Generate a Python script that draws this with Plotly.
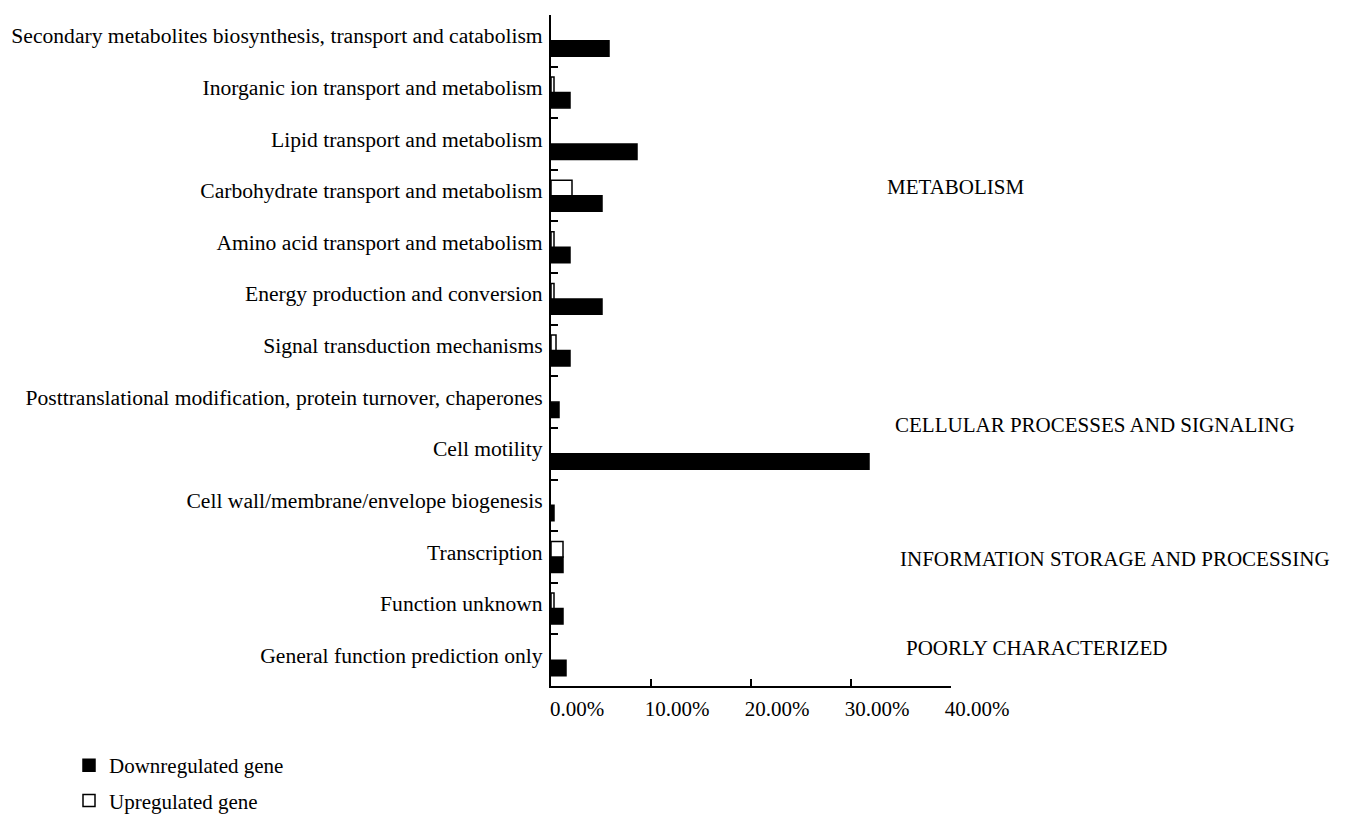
import plotly.graph_objects as go

categories = [
    "General function prediction only",
    "Function unknown",
    "Transcription",
    "Cell wall/membrane/envelope biogenesis",
    "Cell motility",
    "Posttranslational modification, protein turnover, chaperones",
    "Signal transduction mechanisms",
    "Energy production and conversion",
    "Amino acid transport and metabolism",
    "Carbohydrate transport and metabolism",
    "Lipid transport and metabolism",
    "Inorganic ion transport and metabolism",
    "Secondary metabolites biosynthesis, transport and catabolism",
]
down_vals = [1.5, 1.2, 1.2, 0.3, 31.8, 0.8, 1.9, 5.1, 1.9, 5.1, 8.6, 1.9, 5.8]
up_vals = [None, 0.3, 1.2, None, None, None, 0.5, 0.3, 0.3, 2.1, None, 0.3, None]

x_ticks = [0, 10, 20, 30, 40]
x_tick_labels = ["0.00%", "10.00%", "20.00%", "30.00%", "40.00%"]

group_labels = ["METABOLISM", "CELLULAR PROCESSES AND SIGNALING",
                "INFORMATION STORAGE AND PROCESSING", "POORLY CHARACTERIZED"]
group_label_x = [0.835, 0.855, 0.868, 0.8825]
group_label_y = [0.7437, 0.3890, 0.1893, 0.0566]

FONT = "Liberation Serif"

fig = go.Figure()
fig.add_trace(go.Bar(
    name="Downregulated gene", y=categories, x=down_vals, orientation="h",
    legendgroup="down",
    marker=dict(color="black", line=dict(color="black", width=1.5)),
))
fig.add_trace(go.Bar(
    name="Upregulated gene", y=categories, x=up_vals, orientation="h",
    legendgroup="up",
    marker=dict(color="white", line=dict(color="black", width=1.5)),
))

for t, xx, yy in zip(group_labels, group_label_x, group_label_y):
    fig.add_annotation(text=t, x=xx, y=yy, xref="paper", yref="paper",
                       xanchor="left", yanchor="middle", showarrow=False,
                       font=dict(family=FONT, size=21, color="black"))

fig.update_layout(
    width=1341, height=807,
    margin=dict(l=543, r=398, t=7, b=129, autoexpand=False),
    paper_bgcolor="white", plot_bgcolor="white",
    barmode="group", bargap=0.4, bargroupgap=0,
    font=dict(family=FONT, size=21, color="black"),
    legend=dict(x=-1.205, y=-0.088, xanchor="left", yanchor="top",
                font=dict(family=FONT, size=21, color="black"),
                traceorder="grouped", tracegroupgap=5, itemwidth=30),
)
fig.update_xaxes(
    range=[0, 40], tickvals=x_ticks, ticktext=x_tick_labels,
    showline=True, linecolor="black", linewidth=2, mirror=False,
    ticks="inside", ticklen=7, tickwidth=2, tickcolor="black",
    showgrid=False, zeroline=False, ticklabelshift=26, ticklabelstandoff=3,
    tickfont=dict(family=FONT, size=21, color="black"),
)
fig.update_yaxes(
    type="category", showline=True, linecolor="black", linewidth=2,
    ticks="inside", ticklen=7, tickwidth=2, tickcolor="black",
    tickson="boundaries", showgrid=False, zeroline=False,
    ticklabelstandoff=2, ticklabelshift=-5,
    tickfont=dict(family=FONT, size=21.6, color="black"),
)

fig.write_html("out.html")
